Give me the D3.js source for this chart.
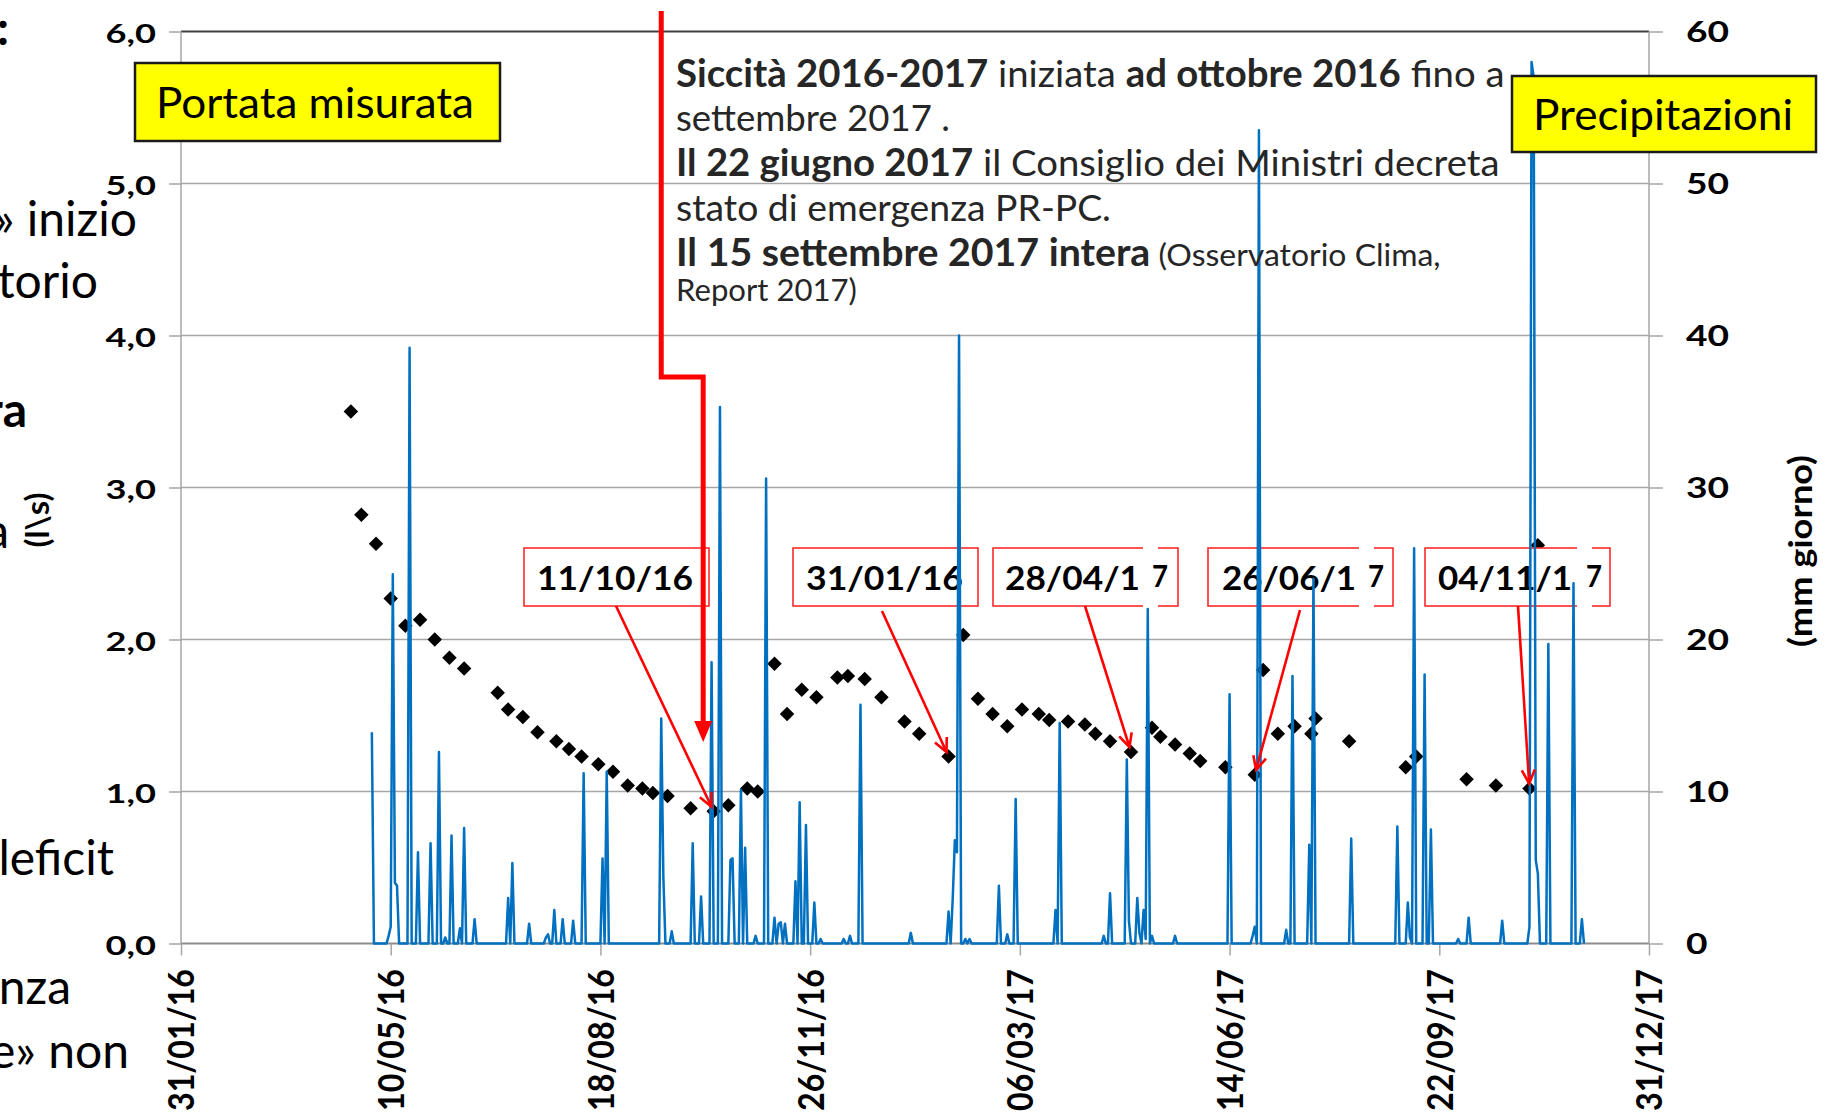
<!DOCTYPE html>
<html lang="it">
<head>
    <meta charset="UTF-8"/>
    <title>Portata misurata e precipitazioni 2016-2017</title>
    <script src="https://d3js.org/d3.v7.min.js"></script>
    <style>
        body { margin: 0; background: #fff; }
        svg text { font-family: Lato, "Open Sans", sans-serif; white-space: pre; }
    </style>
</head>
<body>
<div id="chart"></div>
<script>
    // axis ticks (x: every 100 days)
    const xTickLabels = ["31/01/16", "10/05/16", "18/08/16", "26/11/16", "06/03/17", "14/06/17", "22/09/17", "31/12/17"];
    const flowTicks = [0, 1, 2, 3, 4, 5, 6];
    const rainTicks = [0, 10, 20, 30, 40, 50, 60];

    // portata misurata (l/s)
    const flowDates = ["21/04/16", "26/04/16", "03/05/16", "10/05/16", "17/05/16", "24/05/16", "31/05/16", "07/06/16",
        "14/06/16", "30/06/16", "05/07/16", "12/07/16", "19/07/16", "28/07/16", "03/08/16", "09/08/16", "17/08/16",
        "24/08/16", "31/08/16", "07/09/16", "12/09/16", "19/09/16", "30/09/16", "11/10/16", "18/10/16", "27/10/16",
        "01/11/16", "09/11/16", "15/11/16", "22/11/16", "29/11/16", "09/12/16", "14/12/16", "22/12/16", "30/12/16",
        "10/01/17", "17/01/17", "31/01/17", "07/02/17", "14/02/17", "21/02/17", "28/02/17", "07/03/17", "15/03/17",
        "20/03/17", "29/03/17", "06/04/17", "11/04/17", "18/04/17", "28/04/17", "08/05/17", "12/05/17", "19/05/17",
        "26/05/17", "31/05/17", "12/06/17", "26/06/17", "30/06/17", "07/07/17", "15/07/17", "23/07/17", "25/07/17",
        "10/08/17", "06/09/17", "11/09/17", "05/10/17", "19/10/17", "04/11/17", "08/11/17"];
    const flowValues = [3.50, 2.82, 2.63, 2.27, 2.09, 2.13, 2.00, 1.88,
        1.81, 1.65, 1.54, 1.49, 1.39, 1.33, 1.28, 1.23, 1.18,
        1.13, 1.04, 1.02, 0.99, 0.97, 0.89, 0.87, 0.91, 1.02,
        1.00, 1.84, 1.51, 1.67, 1.62, 1.75, 1.76, 1.74, 1.62,
        1.46, 1.38, 1.23, 2.03, 1.61, 1.51, 1.43, 1.54, 1.51,
        1.47, 1.46, 1.44, 1.38, 1.33, 1.26, 1.42, 1.36, 1.31,
        1.25, 1.20, 1.16, 1.11, 1.80, 1.38, 1.43, 1.38, 1.48,
        1.33, 1.16, 1.23, 1.08, 1.04, 1.02, 2.62];

    // precipitazioni giornaliere (mm): giorni piovosi, gli altri giorni 0
    const rainStart = "01/05/16";
    const rainEnd = "30/11/17";
    const rainDates = ["01/05/16", "09/05/16", "10/05/16", "11/05/16", "12/05/16", "13/05/16", "19/05/16", "23/05/16",
        "29/05/16", "02/06/16", "05/06/16", "08/06/16", "12/06/16", "14/06/16", "19/06/16", "05/07/16", "07/07/16",
        "15/07/16", "23/07/16", "24/07/16", "27/07/16", "31/07/16", "05/08/16", "10/08/16", "19/08/16", "21/08/16",
        "16/09/16", "17/09/16", "21/09/16", "01/10/16", "05/10/16", "10/10/16", "14/10/16", "19/10/16", "20/10/16",
        "24/10/16", "26/10/16", "31/10/16", "05/11/16", "09/11/16", "11/11/16", "12/11/16", "14/11/16", "19/11/16",
        "21/11/16", "24/11/16", "28/11/16", "01/12/16", "12/12/16", "15/12/16", "20/12/16", "13/01/17", "31/01/17",
        "02/02/17", "03/02/17", "04/02/17", "05/02/17", "08/02/17", "10/02/17", "24/02/17", "28/02/17", "04/03/17",
        "23/03/17", "25/03/17", "15/04/17", "18/04/17", "26/04/17", "27/04/17", "01/05/17", "02/05/17", "04/05/17",
        "05/05/17", "06/05/17", "08/05/17", "19/05/17", "14/06/17", "25/06/17", "26/06/17", "28/06/17", "11/07/17",
        "14/07/17", "22/07/17", "24/07/17", "11/08/17", "02/09/17", "07/09/17", "08/09/17", "10/09/17", "15/09/17",
        "18/09/17", "01/10/17", "06/10/17", "22/10/17", "04/11/17", "05/11/17", "06/11/17", "07/11/17", "08/11/17",
        "13/11/17", "25/11/17", "29/11/17"];
    const rainValues = [13.9, 0.5, 1.1, 24.3, 4.0, 3.8, 39.2, 6.0,
        6.6, 12.6, 0.4, 7.1, 1.0, 7.6, 1.6, 3.0, 5.3,
        1.3, 0.4, 0.6, 2.2, 1.6, 1.5, 11.2, 5.6, 11.3,
        14.8, 4.4, 0.8, 6.6, 3.1, 18.5, 35.3, 5.5, 5.6,
        10.1, 6.3, 0.5, 30.6, 1.7, 1.3, 1.4, 1.3, 4.1,
        9.3, 7.8, 2.7, 0.3, 0.3, 0.5, 15.7, 0.7, 2.1,
        3.0, 6.8, 6.0, 40.0, 0.3, 0.3, 3.8, 0.6, 9.5,
        2.2, 14.5, 0.5, 3.3, 12.1, 1.5, 3.0, 0.7, 2.2,
        0.3, 22.0, 0.5, 0.5, 16.4, 0.5, 1.1, 53.5, 0.9,
        17.6, 6.5, 24.0, 6.9, 7.7, 2.7, 0.4, 26.0, 17.7,
        7.5, 0.3, 1.7, 1.5, 1.1, 58.0, 57.0, 5.5, 4.6,
        19.7, 23.7, 1.6];

    // date callouts and the points they point to
    const calloutLabels = ["11/10/16", "31/01/16", "28/04/1 7", "26/06/1 7", "04/11/1 7"];
    const calloutTargets = ["11/10/16", "31/01/17", "28/04/17", "26/06/17", "04/11/17"];

    const noteLines = [
        [["Siccità 2016-2017", "b"], [" iniziata ", "r"], ["ad ottobre 2016", "b"], [" fino a", "r"]],
        [["settembre 2017 .", "r"]],
        [["Il 22 giugno 2017", "b"], [" il Consiglio dei Ministri decreta", "r"]],
        [["stato di emergenza PR-PC.", "r"]],
        [["Il 15 settembre 2017 intera", "b"], [" (Osservatorio Clima,", "s"]],
        [["Report 2017)", "s"]]
    ];

    const W = 1831, H = 1115;
    const plot = {left: 181, right: 1649, top: 31.5, bottom: 943.5};
    const grid = "#a6a6a6";

    const parse = d3.utcParse("%d/%m/%y");
    const fmt = d3.utcFormat("%d/%m/%y");

    const svg = d3.select("#chart").append("svg")
        .attr("width", W)
        .attr("height", H);

    const x = d3.scaleUtc()
        .domain([parse(xTickLabels[0]), parse(xTickLabels[xTickLabels.length - 1])])
        .range([plot.left, plot.right]);
    const yFlow = d3.scaleLinear().domain([0, 6]).range([plot.bottom, plot.top]);
    const yRain = d3.scaleLinear().domain([0, 60]).range([plot.bottom, plot.top]);

    // stretch text horizontally like the original (pasted image was widened)
    function stretch(sel, k) {
        sel.each(function() {
            const n = this.getComputedTextLength();
            d3.select(this).attr("textLength", n * k).attr("lengthAdjust", "spacingAndGlyphs");
        });
    }
    function fit(sel, w) {
        sel.attr("textLength", w).attr("lengthAdjust", "spacingAndGlyphs");
    }

    // gridlines
    svg.append("g").selectAll("line")
        .data(flowTicks.filter(d => d > 0 && d < 6))
        .join("line")
        .attr("x1", plot.left).attr("x2", plot.right)
        .attr("y1", d => yFlow(d)).attr("y2", d => yFlow(d))
        .attr("stroke", grid).attr("stroke-width", 1.5);

    // plot frame
    svg.append("line").attr("x1", plot.left).attr("x2", plot.right)
        .attr("y1", plot.top).attr("y2", plot.top)
        .attr("stroke", "#404040").attr("stroke-width", 2);
    svg.append("line").attr("x1", plot.left).attr("x2", plot.left)
        .attr("y1", plot.top).attr("y2", plot.bottom)
        .attr("stroke", grid).attr("stroke-width", 1.5);
    svg.append("line").attr("x1", plot.right).attr("x2", plot.right)
        .attr("y1", plot.top).attr("y2", plot.bottom)
        .attr("stroke", grid).attr("stroke-width", 1.5);
    svg.append("line").attr("x1", plot.left).attr("x2", plot.right)
        .attr("y1", plot.bottom).attr("y2", plot.bottom)
        .attr("stroke", "#8c8c8c").attr("stroke-width", 2);

    // left axis
    const gL = svg.append("g")
        .attr("transform", "translate(" + plot.left + ",0)")
        .call(d3.axisLeft(yFlow).tickValues(flowTicks).tickSize(12).tickPadding(13)
            .tickFormat(d => d3.format(".1f")(d).replace(".", ",")));
    gL.select(".domain").remove();
    gL.selectAll("line").attr("stroke", grid).attr("stroke-width", 1.5);
    gL.selectAll("text")
        .attr("font-size", 27).attr("font-weight", 700).attr("fill", "#000").attr("dy", "0.39em");
    stretch(gL.selectAll("text"), 1.34);

    // right axis
    const gR = svg.append("g")
        .attr("transform", "translate(" + plot.right + ",0)")
        .call(d3.axisRight(yRain).tickValues(rainTicks).tickSize(14).tickPadding(23));
    gR.select(".domain").remove();
    gR.selectAll("line").attr("stroke", grid).attr("stroke-width", 1.5);
    gR.selectAll("text")
        .attr("font-size", 29).attr("font-weight", 700).attr("fill", "#000").attr("dy", "0.35em");
    stretch(gR.selectAll("text"), 1.28);

    // bottom axis
    const gB = svg.append("g")
        .attr("transform", "translate(0," + plot.bottom + ")")
        .call(d3.axisBottom(x).tickValues(xTickLabels.map(parse)).tickSize(12).tickFormat(fmt));
    gB.select(".domain").remove();
    gB.selectAll("line").attr("stroke", grid).attr("stroke-width", 1.5);
    gB.selectAll("text")
        .attr("font-size", 37).attr("font-weight", 700).attr("fill", "#000")
        .attr("transform", "rotate(-90)")
        .attr("text-anchor", "end")
        .attr("x", -25.5).attr("y", 0).attr("dy", "0.35em");
    fit(gB.selectAll("text"), 142);

    // axis titles
    const tR = svg.append("text")
        .attr("transform", "translate(1800,551) rotate(-90)")
        .attr("text-anchor", "middle").attr("dy", "0.35em")
        .attr("font-size", 33).attr("font-weight", 700)
        .text("(mm giorno)");
    fit(tR, 192);
    const tL = svg.append("text")
        .attr("transform", "translate(37,520) rotate(-90)")
        .attr("text-anchor", "middle").attr("dy", "0.35em")
        .attr("font-size", 33).attr("font-weight", 700)
        .text("(l\\s)");
    fit(tL, 55);

    // portata: black diamonds
    const flow = flowDates.map((d, i) => ({date: parse(d), v: flowValues[i]}));
    svg.append("g").selectAll("path")
        .data(flow)
        .join("path")
        .attr("d", d3.symbol(d3.symbolSquare, 105))
        .attr("transform", d => "translate(" + x(d.date) + "," + yFlow(d.v) + ") rotate(45)")
        .attr("fill", "#000");

    // callout boxes
    const boxLeft = [524, 793, 993, 1208, 1425];
    const labelX = [537, 806, 1005, 1222, 1438];
    const labelW = [156, 157, 135, 134, 134];
    const sevenX = [0, 0, 1152, 1368, 1586];
    const arrowFrom = [[616, 606], [882, 611], [1085, 606], [1300, 610], [1518, 606]];
    const boxTop = 548, boxH = 58, boxW = 185;

    const gBox = svg.append("g");
    calloutLabels.forEach((label, i) => {
        const parts = label.split(" ");
        gBox.append("rect")
            .attr("x", boxLeft[i]).attr("y", boxTop)
            .attr("width", boxW).attr("height", boxH)
            .attr("fill", "#fff").attr("stroke", "#ff2a2a").attr("stroke-width", 1.6);
        const t = gBox.append("text")
            .attr("x", labelX[i]).attr("y", 590)
            .attr("font-size", 33).attr("font-weight", 700).attr("fill", "#000")
            .text(parts[0]);
        fit(t, labelW[i]);
        if (parts[1]) {
            // broken border where the last digit was nudged
            [boxTop, boxTop + boxH].forEach(yy => gBox.append("rect")
                .attr("x", sevenX[i] - 9).attr("y", yy - 2).attr("width", 15).attr("height", 4)
                .attr("fill", "#fff"));
            const s = gBox.append("text")
                .attr("x", sevenX[i]).attr("y", 587)
                .attr("font-size", 31).attr("font-weight", 700).attr("fill", "#000")
                .text(parts[1]);
            fit(s, 16);
        }
    });

    // precipitazioni: blue daily line
    const rainByDay = new Map(rainDates.map((d, i) => [d, rainValues[i]]));
    const rain = d3.utcDays(parse(rainStart), d3.utcDay.offset(parse(rainEnd), 1))
        .map(d => ({date: d, mm: rainByDay.get(fmt(d)) || 0}));
    svg.append("path")
        .datum(rain)
        .attr("fill", "none")
        .attr("stroke", "#0070c0")
        .attr("stroke-width", 2.5)
        .attr("stroke-linejoin", "round")
        .attr("d", d3.line().x(d => x(d.date)).y(d => yRain(d.mm)));

    // callout arrows
    const gArr = svg.append("g").attr("stroke", "#ff0000").attr("stroke-width", 2.6).attr("fill", "none");
    calloutTargets.forEach((target, i) => {
        const v = flowValues[flowDates.indexOf(target)];
        const tx = x(parse(target)), ty = yFlow(v);
        const [x1, y1] = arrowFrom[i];
        const a = Math.atan2(ty - y1, tx - x1);
        const x2 = tx - 5 * Math.cos(a), y2 = ty - 5 * Math.sin(a);
        gArr.append("line").attr("x1", x1).attr("y1", y1).attr("x2", x2).attr("y2", y2);
        const head = [a + Math.PI - 0.45, a + Math.PI + 0.45]
            .map(t => [x2 + 15 * Math.cos(t), y2 + 15 * Math.sin(t)]);
        gArr.append("path").attr("d", "M" + head[0] + "L" + x2 + "," + y2 + "L" + head[1]);
    });

    // drought onset arrow
    const xa = x(parse("16/09/16")), xb = x(parse("06/10/16"));
    svg.append("path")
        .attr("d", "M" + xa + ",11V377H" + xb + "V724")
        .attr("fill", "none").attr("stroke", "#ff0000").attr("stroke-width", 5);
    svg.append("path")
        .attr("d", "M" + (xb - 9) + ",721L" + (xb + 9) + ",721L" + xb + ",742Z")
        .attr("fill", "#ff0000");

    // note text
    const noteBase = [87, 131, 175.5, 221, 265.5, 301];
    const noteW = [829, 274, 824, 435, 765, 181];
    noteLines.forEach((segs, i) => {
        const g = svg.append("g");
        const t = g.append("text").attr("fill", "#262626");
        segs.forEach(([s, st]) => t.append("tspan")
            .attr("font-weight", st === "b" ? 700 : 400)
            .attr("font-size", st === "s" ? 30.5 : 37.5)
            .text(s));
        const n = t.node().getComputedTextLength();
        g.attr("transform", "translate(676," + noteBase[i] + ") scale(" + (noteW[i] / n) + ",1)");
    });

    // yellow legend boxes
    function yellowBox(x0, y0, w, h, label, tx, ty, tw) {
        svg.append("rect")
            .attr("x", x0).attr("y", y0).attr("width", w).attr("height", h)
            .attr("fill", "#ffff00").attr("stroke", "#1a1a1a").attr("stroke-width", 2.5);
        const t = svg.append("text")
            .attr("x", tx).attr("y", ty)
            .attr("font-size", 42).attr("fill", "#000")
            .text(label);
        fit(t, tw);
    }
    yellowBox(135, 63, 365, 78, "Portata misurata", 156, 118, 318);
    yellowBox(1512, 76, 304, 76, "Precipitazioni", 1533, 129.5, 260);

    // slide text cut off at the left edge
    const leftText = [
        [":", 9, 45, 700], ["» inizio", 137, 236, 400], ["torio", 98, 298, 400], ["ra", 27, 427, 700],
        ["a", 9, 548, 400], ["leficit", 114, 875, 400], ["nza", 71, 1004, 400], ["e» non", 129, 1068, 400]
    ];
    svg.append("g").selectAll("text")
        .data(leftText)
        .join("text")
        .attr("x", d => d[1]).attr("y", d => d[2])
        .attr("text-anchor", "end")
        .attr("font-size", 48).attr("font-weight", d => d[3]).attr("fill", "#000")
        .text(d => d[0]);
</script>
</body>
</html>
